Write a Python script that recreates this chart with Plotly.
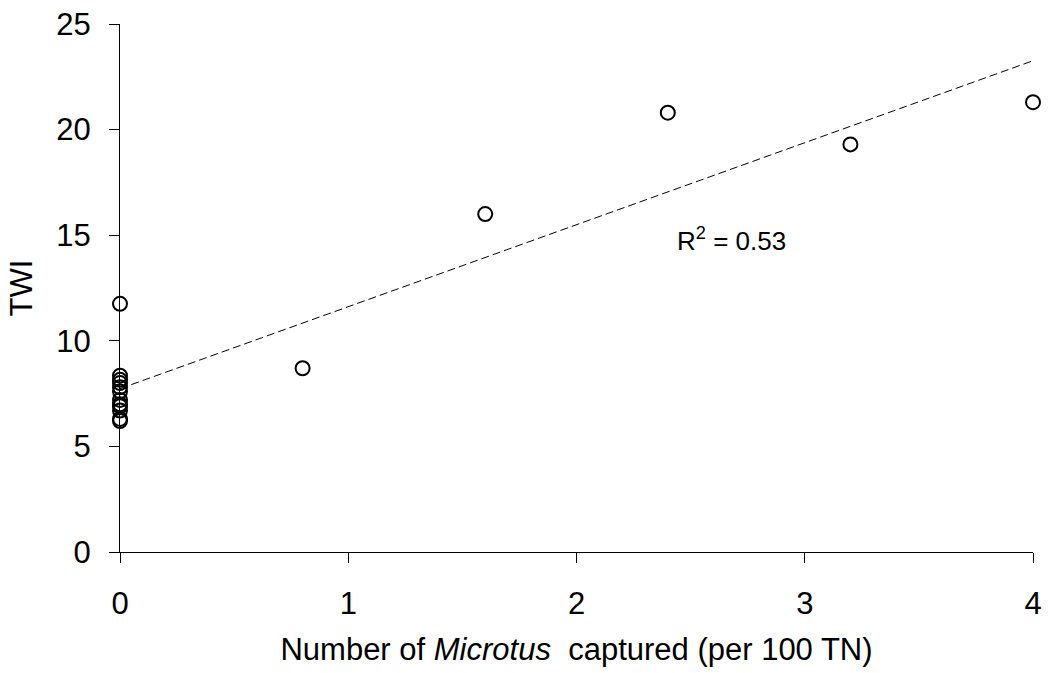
import numpy as np
import plotly.graph_objects as go

# Microtus captures (per 100 trap nights) and TWI for each site
captures = [0, 0, 0, 0, 0, 0, 0, 0, 0, 0, 0, 0, 0.8, 1.6, 2.4, 3.2, 4.0]
twi = [11.75, 8.35, 8.15, 8.0, 7.8, 7.6, 7.2, 7.0, 6.9, 6.7, 6.3, 6.2,
       8.7, 16.0, 20.8, 19.3, 21.3]

x_ticks = [0, 1, 2, 3, 4]
y_ticks = [0, 5, 10, 15, 20, 25]
r2_label = "R<sup>2</sup> = 0.53"

# least-squares trend line over the x range
slope, intercept = np.polyfit(captures, twi, 1)
trend_x = np.array([0.0, 4.0])
trend_y = intercept + slope * trend_x

FONT = "Liberation Sans, Arial, Helvetica, sans-serif"

fig = go.Figure()
fig.add_trace(go.Scatter(
    x=trend_x, y=trend_y, mode="lines",
    line=dict(color="black", width=1, dash="8px,4px"),
    hoverinfo="skip", showlegend=False,
))
fig.add_trace(go.Scatter(
    x=captures, y=twi, mode="markers",
    marker=dict(symbol="circle-open", size=14, color="black",
                line=dict(width=2)),
    cliponaxis=False, showlegend=False,
))

fig.add_annotation(
    x=2.43, y=14.8, xref="x", yref="y", text=r2_label, showarrow=False,
    xanchor="left", yanchor="middle",
    font=dict(family=FONT, size=26, color="black"),
)

axis_common = dict(
    showgrid=False, zeroline=False, showline=True, linecolor="black",
    linewidth=1, ticks="outside", ticklen=10, tickwidth=1, tickcolor="black",
    tickfont=dict(family=FONT, size=31, color="black"),
)

fig.update_xaxes(
    range=[0, 4], tickvals=x_ticks, ticktext=[str(v) for v in x_ticks],
    ticklabelstandoff=14,
    title=dict(text="Number of <i>Microtus</i>  captured (per 100 TN)",
               font=dict(family=FONT, size=31, color="black"), standoff=18),
    **axis_common,
)
fig.update_yaxes(
    range=[0, 25], tickvals=y_ticks, ticktext=[str(v) for v in y_ticks],
    ticklabelstandoff=12,
    title=dict(text="TWI", font=dict(family=FONT, size=31, color="black"),
               standoff=14),
    **axis_common,
)

fig.update_layout(
    width=1048, height=673,
    margin=dict(l=120, r=15, t=24, b=121, autoexpand=False),
    paper_bgcolor="white", plot_bgcolor="white",
)

fig.write_html("out.html")
